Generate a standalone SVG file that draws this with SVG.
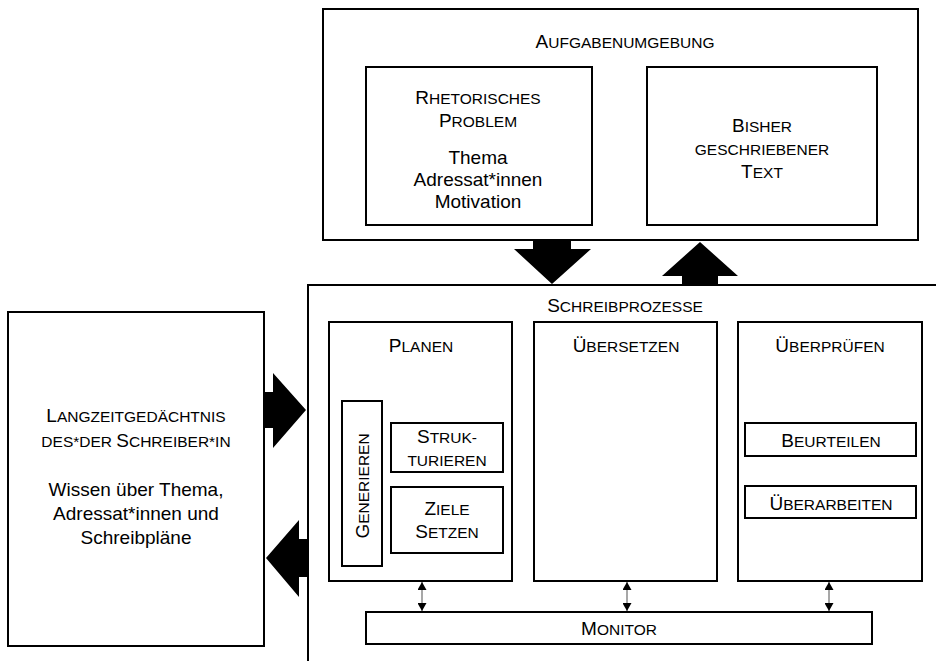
<svg xmlns="http://www.w3.org/2000/svg" width="936" height="661" viewBox="0 0 936 661">
  <style>
    .box { fill: #fff; stroke: #000; stroke-width: 2; }
    .t { font-family: "Liberation Sans", Arial, sans-serif; font-size: 19px; fill: #000; text-anchor: middle; }
    .sc { font-size: 15.5px; }
    .big { fill: #000; stroke: none; }
    .link { stroke: #8a8a8a; stroke-width: 1.5; fill: none; marker-start: url(#tip); marker-end: url(#tip); }
  </style>
  <defs>
    <marker id="tip" viewBox="0 0 8 9" refX="8" refY="4.5" markerWidth="8" markerHeight="9" markerUnits="userSpaceOnUse" orient="auto-start-reverse">
      <path d="M0,0 L8,4.5 L0,9 z" fill="#000"/>
    </marker>
  </defs>
  <rect width="936" height="661" fill="#fff"/>

  <!-- task environment -->
  <g id="aufgabenumgebung">
    <rect class="box" x="323" y="9" width="595" height="231"/>
    <text class="t" x="625" y="48">A<tspan class="sc">UFGABENUMGEBUNG</tspan></text>
  </g>
  <g id="rhetorisches-problem">
    <rect class="box" x="366" y="67" width="226" height="158"/>
    <text class="t" x="478" y="104">R<tspan class="sc">HETORISCHES</tspan></text>
    <text class="t" x="478" y="127">P<tspan class="sc">ROBLEM</tspan></text>
    <text class="t" x="478" y="164">Thema</text>
    <text class="t" x="478" y="186">Adressat*innen</text>
    <text class="t" x="478" y="208">Motivation</text>
  </g>
  <g id="bisher-geschriebener-text">
    <rect class="box" x="647" y="67" width="230" height="158"/>
    <text class="t" x="762" y="132">B<tspan class="sc">ISHER</tspan></text>
    <text class="t sc" x="762" y="155">GESCHRIEBENER</text>
    <text class="t" x="762" y="178">T<tspan class="sc">EXT</tspan></text>
  </g>

  <!-- long-term memory -->
  <g id="langzeitgedaechtnis">
    <rect class="box" x="8" y="312" width="256" height="334"/>
    <text class="t" x="136" y="422">L<tspan class="sc">ANGZEITGEDÄCHTNIS</tspan></text>
    <text class="t" x="136" y="447"><tspan class="sc">DES*DER </tspan>S<tspan class="sc">CHREIBER*IN</tspan></text>
    <text class="t" x="136" y="496">Wissen über Thema,</text>
    <text class="t" x="136" y="520">Adressat*innen und</text>
    <text class="t" x="136" y="544">Schreibpläne</text>
  </g>

  <!-- writing processes -->
  <g id="schreibprozesse">
    <rect class="box" x="308" y="285" width="700" height="500"/>
    <text class="t" x="625" y="312">S<tspan class="sc">CHREIBPROZESSE</tspan></text>
  </g>
  <g id="planen">
    <rect class="box" x="329" y="322" width="183" height="259"/>
    <text class="t" x="421" y="352">P<tspan class="sc">LANEN</tspan></text>
  </g>
  <g id="generieren">
    <rect class="box" x="342" y="401" width="40" height="165"/>
    <text class="t" transform="translate(369,486) rotate(-90)">G<tspan class="sc">ENERIEREN</tspan></text>
  </g>
  <g id="strukturieren">
    <rect class="box" x="391" y="423" width="112" height="49"/>
    <text class="t" x="447" y="443">S<tspan class="sc">TRUK-</tspan></text>
    <text class="t sc" x="447" y="466">TURIEREN</text>
  </g>
  <g id="ziele-setzen">
    <rect class="box" x="391" y="487" width="112" height="66"/>
    <text class="t" x="447" y="515">Z<tspan class="sc">IELE</tspan></text>
    <text class="t" x="447" y="538">S<tspan class="sc">ETZEN</tspan></text>
  </g>
  <g id="uebersetzen">
    <rect class="box" x="534" y="322" width="183" height="259"/>
    <text class="t" x="626" y="352">Ü<tspan class="sc">BERSETZEN</tspan></text>
  </g>
  <g id="ueberpruefen">
    <rect class="box" x="738" y="322" width="184" height="259"/>
    <text class="t" x="830" y="352">Ü<tspan class="sc">BERPRÜFEN</tspan></text>
  </g>
  <g id="beurteilen">
    <rect class="box" x="745" y="423" width="171" height="33"/>
    <text class="t" x="831" y="447">B<tspan class="sc">EURTEILEN</tspan></text>
  </g>
  <g id="ueberarbeiten">
    <rect class="box" x="745" y="486" width="171" height="32"/>
    <text class="t" x="831" y="510">Ü<tspan class="sc">BERARBEITEN</tspan></text>
  </g>
  <g id="monitor">
    <rect class="box" x="366" y="612" width="506" height="32"/>
    <text class="t" x="619" y="635">M<tspan class="sc">ONITOR</tspan></text>
  </g>

  <!-- connectors -->
  <g id="connectors">
    <!-- block arrows -->
    <polygon class="big" points="533,240 571,240 571,249 591,249 552,284 514,249 533,249"/>
    <polygon class="big" points="682,285 682,276 662,276 700,242 738,276 718,276 718,285"/>
    <polygon class="big" points="264,392 273,392 273,373 306,410 273,448 273,428 264,428"/>
    <polygon class="big" points="308,539 299,539 299,520 266,558 299,597 299,577 308,577"/>
    <!-- monitor links -->
    <line class="link" x1="422" y1="582" x2="422" y2="611"/>
    <line class="link" x1="627" y1="582" x2="627" y2="611"/>
    <line class="link" x1="829" y1="582" x2="829" y2="611"/>
  </g>
</svg>
